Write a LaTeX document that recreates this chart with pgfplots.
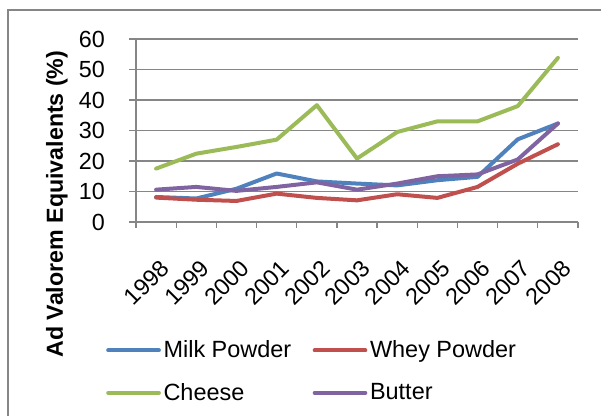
\documentclass[border=0pt]{standalone}
\usepackage{pgfplots}
\pgfplotsset{compat=1.18}
\usepackage{fontspec}
\setmainfont{Liberation Sans}
\definecolor{cMilk}{HTML}{4F81BD}
\definecolor{cWhey}{HTML}{C0504D}
\definecolor{cCheese}{HTML}{9BBB59}
\definecolor{cButter}{HTML}{8064A2}
\definecolor{cGrid}{HTML}{868686}
\begin{document}
\begin{tikzpicture}
\path[use as bounding box] (0pt,0pt) rectangle (450.75pt,-312pt);
\draw[cGrid, line width=1.5pt] (6pt,-330pt) -- (6pt,-7.5pt) -- (470pt,-7.5pt);
\begin{axis}[
  at={(102pt,-166.5pt)}, anchor=south west,
  scale only axis, width=331.5pt, height=137.25pt,
  xmin=1997.5, xmax=2008.5, ymin=0, ymax=60,
  xtick={1998,...,2008},
  minor xtick={1997.5,1998.5,...,2008.5},
  ytick={0,10,...,60},
  /pgf/number format/1000 sep={},
  /pgf/number format/assume math mode=true,
  axis x line=bottom, axis y line=left,
  axis line style={-, draw=cGrid, line width=1pt},
  tick align=outside,
  major tick length=5.25pt, minor tick length=4.5pt,
  every major x tick/.style={draw=none},
  tick style={draw=cGrid, line width=1pt},
  ymajorgrids,
  major grid style={draw=cGrid, line width=1pt},
  ticklabel style={font=\fontsize{17.5}{19}\selectfont},
  yticklabel style={anchor=east, inner sep=0pt, xshift=-18pt},
  xticklabel style={inner sep=0pt, xshift=6.75pt, yshift=-26.5pt, rotate=45, anchor=east},
  ylabel={Ad Valorem Equivalents (\%)},
  ylabel style={font=\fontsize{17.4}{20}\selectfont\bfseries, at={(axis description cs:-0.179,0.098)}, anchor=center},
  legend columns=2,
  legend cell align=left,
  legend image code/.code={\draw[#1] (0pt,0pt) -- (38pt,0pt);},
  legend style={at={(axis description cs:-0.068,-0.634)}, anchor=north west, draw=none, fill=none,
     font=\fontsize{17.6}{20}\selectfont, inner sep=0pt, row sep=13.5pt,
     /tikz/every even column/.append style={column sep=14pt}},
  every axis plot/.append style={line width=3pt, line join=round, line cap=round},
  clip=false,
]
\addplot[cMilk] coordinates {(1998,8.2)(1999,7.7)(2000,10.9)(2001,15.9)(2002,13.3)(2003,12.6)(2004,12.0)(2005,13.7)(2006,14.8)(2007,27.1)(2008,32.3)};
\addlegendentry{Milk Powder}
\addplot[cWhey] coordinates {(1998,8.0)(1999,7.3)(2000,6.9)(2001,9.3)(2002,7.9)(2003,7.1)(2004,9.1)(2005,7.9)(2006,11.5)(2007,19.1)(2008,25.5)};
\addlegendentry{Whey Powder}
\addplot[cCheese] coordinates {(1998,17.5)(1999,22.4)(2000,24.6)(2001,27.0)(2002,38.3)(2003,20.8)(2004,29.5)(2005,33.0)(2006,33.0)(2007,38.0)(2008,53.8)};
\addlegendentry{Cheese}
\addplot[cButter] coordinates {(1998,10.6)(1999,11.5)(2000,10.2)(2001,11.5)(2002,13.0)(2003,10.6)(2004,12.6)(2005,15.0)(2006,15.6)(2007,20.5)(2008,32.3)};
\addlegendentry{Butter}
\end{axis}
\end{tikzpicture}
\end{document}
